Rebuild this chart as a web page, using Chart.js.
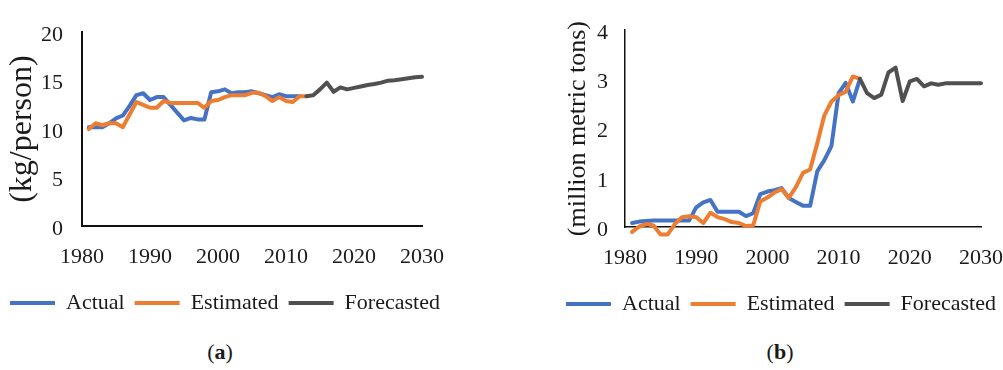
<!DOCTYPE html>
<html>
<head>
<meta charset="utf-8">
<script src="https://cdn.jsdelivr.net/npm/chart.js@4.4.1/dist/chart.umd.min.js"></script>
<style>
  html, body { margin: 0; padding: 0; background: #fff; width: 1003px; height: 370px; overflow: hidden; position: relative;
    font-family: 'Liberation Serif', 'Times New Roman', serif; }
  canvas { position: absolute; top: 0; }
  #chartA { left: 0; }
  #chartB { left: 556px; }
  .cap { position: absolute; top: 339px; font-size: 22px; line-height: 26px; color: #1a1a1a;
    transform: translateX(-50%); white-space: nowrap; }
</style>
</head>
<body>
<canvas id="chartA" width="480" height="330"></canvas>
<canvas id="chartB" width="470" height="330"></canvas>
<div class="cap" style="left:220px">(<b>a</b>)</div>
<div class="cap" style="left:780px">(<b>b</b>)</div>
<script>
// ---- shared axis ticks ----
const yearTicks = [1980, 1990, 2000, 2010, 2020, 2030];
const seriesNames = ['Actual', 'Estimated', 'Forecasted'];

// ---- (a) per-capita consumption, kg/person ----
const perCapitaTicks = [0, 5, 10, 15, 20];
const perCapitaActualYears = [1981,1982,1983,1984,1985,1986,1987,1988,1989,1990,1991,1992,1993,1994,1995,1996,
  1997,1998,1999,2000,2001,2002,2003,2004,2005,2006,2007,2008,2009,2010,2011,2012];
const perCapitaActual = [10.2,10.2,10.2,10.6,11.1,11.4,12.4,13.5,13.7,13.0,13.3,13.3,12.5,11.7,10.9,11.15,
  11.0,11.0,13.8,13.9,14.1,13.7,13.8,13.8,13.9,13.7,13.5,13.3,13.6,13.4,13.4,13.4];
const perCapitaEstimatedYears = [1981,1982,1983,1984,1985,1986,1987,1988,1989,1990,1991,1992,1993,1994,1995,1996,
  1997,1998,1999,2000,2001,2002,2003,2004,2005,2006,2007,2008,2009,2010,2011,2012,2013];
const perCapitaEstimated = [10.0,10.6,10.4,10.6,10.6,10.2,11.5,12.8,12.5,12.2,12.2,12.9,12.7,12.7,12.7,12.7,
  12.7,12.2,12.9,13.0,13.3,13.5,13.5,13.5,13.75,13.75,13.4,12.9,13.3,12.9,12.8,13.4,13.4];
const perCapitaForecastYears = [2013,2014,2015,2016,2017,2018,2019,2020,2021,2022,2023,2024,2025,2026,2027,2028,2029,2030];
const perCapitaForecast = [13.4,13.5,14.1,14.8,13.85,14.3,14.1,14.25,14.4,14.55,14.65,14.8,15.0,15.05,15.15,15.25,15.35,15.4];

// ---- (b) total volume, million metric tons ----
const volumeTicks = [0, 1, 2, 3, 4];
const volumeActualYears = [1981,1982,1983,1984,1985,1986,1987,1988,1989,1990,1991,1992,1993,1994,1995,1996,
  1997,1998,1999,2000,2001,2002,2003,2004,2005,2006,2007,2008,2009,2010,2011,2012,2013];
const volumeActual = [0.08,0.11,0.12,0.13,0.13,0.13,0.13,0.13,0.13,0.40,0.50,0.55,0.31,0.31,0.31,0.31,
  0.22,0.28,0.67,0.72,0.75,0.79,0.59,0.51,0.43,0.43,1.13,1.36,1.65,2.72,2.93,2.55,3.01];
const volumeEstimatedYears = volumeActualYears;
const volumeEstimated = [-0.10,0.01,0.06,0.03,-0.15,-0.15,0.06,0.20,0.22,0.20,0.08,0.29,0.20,0.16,0.10,0.08,
  0.02,0.03,0.52,0.60,0.70,0.77,0.59,0.81,1.10,1.17,1.70,2.27,2.55,2.68,2.75,3.06,3.01];
const volumeForecastYears = [2013,2014,2015,2016,2017,2018,2019,2020,2021,2022,2023,2024,2025,2026,2027,2028,2029,2030];
const volumeForecast = [3.01,2.72,2.62,2.69,3.14,3.24,2.56,2.96,3.01,2.86,2.92,2.89,2.92,2.92,2.92,2.92,2.92,2.92];

const seriesColors = ['#4472C4', '#ED7D31', '#505050'];
const FONT = "'Liberation Serif', 'Times New Roman', serif";
const INK = '#1a1a1a';

Chart.defaults.font.family = FONT;
Chart.defaults.color = INK;

function points(years, values) {
  return years.map((yr, i) => ({ x: yr, y: values[i] }));
}

function line(label, idx, years, values, order) {
  return {
    label,
    data: points(years, values),
    borderColor: seriesColors[idx],
    backgroundColor: seriesColors[idx],
    borderWidth: 4,
    borderCapStyle: 'round',
    borderJoinStyle: 'round',
    pointRadius: 0,
    tension: 0,
    fill: false,
    clip: false,
    order
  };
}

function makeChart(canvasId, cfg) {
  return new Chart(document.getElementById(canvasId), {
    type: 'line',
    data: {
      datasets: [
        line(seriesNames[0], 0, cfg.actual[0], cfg.actual[1], 3),
        line(seriesNames[1], 1, cfg.estimated[0], cfg.estimated[1], 2),
        line(seriesNames[2], 2, cfg.forecast[0], cfg.forecast[1], 1)
      ]
    },
    options: {
      responsive: false,
      animation: false,
      events: [],
      layout: { padding: { top: cfg.padTop, bottom: cfg.padBottom, left: 0, right: 0 } },
      plugins: {
        tooltip: { enabled: false },
        legend: {
          position: 'bottom',
          align: 'start',
          labels: {
            usePointStyle: true,
            pointStyle: 'line',
            pointStyleWidth: 45,
            padding: 10,
            color: INK,
            font: { size: 22, family: FONT },
            sort: (a, b) => a.datasetIndex - b.datasetIndex
          }
        }
      },
      scales: {
        x: {
          type: 'linear',
          position: 'bottom',
          min: yearTicks[0],
          max: yearTicks[yearTicks.length - 1],
          afterBuildTicks: s => { s.ticks = yearTicks.map(v => ({ value: v })); },
          afterFit: s => { s.height = 56; },
          grid: { display: false, drawTicks: false },
          border: { display: true, color: '#111', width: cfg.axisWidth },
          ticks: { padding: 18, maxRotation: 0, autoSkip: false, color: INK, font: { size: 22 },
                   callback: v => String(v) }
        },
        y: {
          type: 'linear',
          position: 'left',
          min: cfg.yTicks[0],
          max: cfg.yTicks[cfg.yTicks.length - 1],
          afterBuildTicks: s => { s.ticks = cfg.yTicks.map(v => ({ value: v })); },
          afterFit: s => { s.width = cfg.yWidth; },
          grid: { display: false, drawTicks: false },
          border: { display: true, color: '#111', width: cfg.axisWidth },
          ticks: { padding: cfg.yPad, labelOffset: 3, color: INK, font: { size: 22 }, callback: v => String(v) },
          title: { display: true, text: cfg.title, color: INK,
                   font: { size: cfg.titleSize, family: FONT }, padding: { top: cfg.titlePad, bottom: 0 } }
        },
        gutter: {
          type: 'linear',
          position: 'right',
          display: true,
          afterFit: s => { s.width = cfg.rightGap; },
          grid: { display: false, drawTicks: false },
          border: { display: false },
          ticks: { display: false }
        }
      }
    }
  });
}

makeChart('chartA', {
  actual: [perCapitaActualYears, perCapitaActual],
  estimated: [perCapitaEstimatedYears, perCapitaEstimated],
  forecast: [perCapitaForecastYears, perCapitaForecast],
  yTicks: perCapitaTicks,
  title: '(kg/person)',
  titleSize: 32,
  titlePad: 3,
  yWidth: 82,
  yPad: 19,
  rightGap: 58,
  padTop: 20,
  padBottom: 6,
  axisWidth: 2
});

makeChart('chartB', {
  actual: [volumeActualYears, volumeActual],
  estimated: [volumeEstimatedYears, volumeEstimated],
  forecast: [volumeForecastYears, volumeForecast],
  yTicks: volumeTicks,
  title: '(million metric tons)',
  titleSize: 26,
  titlePad: 7,
  yWidth: 69,
  yPad: 17,
  rightGap: 45,
  padTop: 21,
  padBottom: 5,
  axisWidth: 1.5
});
</script>
</body>
</html>
